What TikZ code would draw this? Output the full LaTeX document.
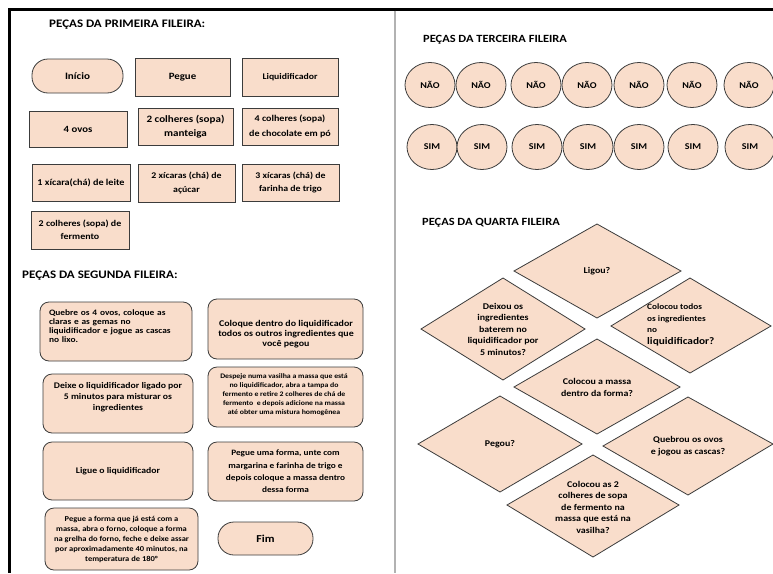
\documentclass[tikz,border=0pt]{standalone}
\usepackage{fontspec}
\setmainfont{Carlito}[FakeStretch=1.13]
\usetikzlibrary{shapes.geometric}
\definecolor{peach}{RGB}{249,221,203}
\definecolor{edgec}{RGB}{60,60,60}
\begin{document}
\begin{tikzpicture}[x=1pt,y=-1pt,
  piece/.style={draw=edgec, line width=0.8pt, fill=peach, align=center, inner sep=0pt},
  sz/.style n args={2}{minimum width=#1pt, minimum height=#2pt},
  fz/.style n args={2}{font=\bfseries\fontsize{#1}{#2}\selectfont},
  rbox/.style={piece, rounded corners=9pt},
  stad/.style={piece, rounded corners=16pt},
  txt/.style={align=center, inner sep=0pt},
  circ/.style={piece, ellipse, minimum width=50pt, minimum height=45pt, fz={8.9}{10}},
  dia/.style={draw=edgec, line width=0.8pt, fill=peach, line join=miter},
  fd/.style={fz={8.8}{11.5}, align=center, inner sep=0pt},
  head/.style={anchor=west, inner sep=0pt, fz={11.5}{13}},
]
\useasboundingbox (0,0) rectangle (773,573);
\fill[white] (0,0) rectangle (773,573);
% frame
\draw[line width=3pt] (8,9) -- (773,9);
\draw[line width=3pt] (9,8) -- (9,573);
\draw[line width=1.6pt, black!30] (395,10.5) -- (395,573);

% ---- first row
\node[head] (h1) at (49,25) {PEÇAS DA PRIMEIRA FILEIRA:};
\node[stad, sz={91}{34}, fz={9.8}{12}] (inicio) at (77.5,76) {Início};
\node[piece, sz={95}{38}, fz={9.6}{12}] (pegue) at (182.5,77) {Pegue};
\node[piece, sz={96}{38}, fz={8.6}{12}] (liq) at (290,77) {Liquidificador};
\node[piece, sz={98}{36}, fz={9.5}{12}] (ovos) at (78,129) {4 ovos};
\node[piece, sz={95}{37}, fz={9.8}{14.5}] (mant) at (185.5,126.5) {2 colheres (sopa)\\manteiga};
\node[piece, sz={96}{37}, fz={8.9}{14.5}] (choc) at (290,126.5) {4 colheres (sopa)\\de chocolate em pó};
\node[piece, sz={98}{37}, fz={9}{12}] (leite) at (81,182.5) {1 xícara(chá) de leite};
\node[piece, sz={97}{38}, fz={8.7}{13.5}] (acucar) at (186.5,183) {2 xícaras (chá) de\\açúcar};
\node[piece, sz={97}{37}, fz={8.7}{13}] (farinha) at (290.5,182.5) {3 xícaras (chá) de\\farinha de trigo};
\node[piece, sz={98}{38}, fz={8.8}{12.5}] (ferm) at (80,230) {2 colheres (sopa) de\\fermento};

% ---- second row
\node[head] (h2) at (22,276) {PEÇAS DA SEGUNDA FILEIRA:};
\node[rbox, sz={152}{59}] (quebre) at (116,331.5) {};
\node[txt, fz={8.3}{9.2}, align=left, text width=140pt] (quebreT) at (119,326)
  {Quebre os 4 ovos, coloque as\\claras e as gemas no\\liquidificador e jogue as cascas\\no lixo.};
\node[rbox, sz={155}{60}] (coloque) at (285.5,329) {};
\node[txt, fz={8.8}{10}] (coloqueT) at (286,334.5)
  {Coloque dentro do liquidificador\\todos os outros ingredientes que\\você pegou};
\node[rbox, sz={150}{59}] (deixe) at (118,403.5) {};
\node[txt, fz={8.6}{11}] (deixeT) at (118,397.5)
  {Deixe o liquidificador ligado por\\5 minutos para misturar os\\ingredientes};
\node[rbox, sz={155}{60}] (despeje) at (285.5,397) {};
\node[txt, fz={6.9}{8.9}] (despejeT) at (284,394.5)
  {Despeje numa vasilha a massa que está\\no liquidificador, abra a tampa do\\fermento e retire 2 colheres de chá de\\fermento\ \ e depois adicione na massa\\até obter uma mistura homogênea};
\node[rbox, sz={150}{58}, fz={8.6}{11}] (ligue) at (118,471) {Ligue o liquidificador};
\node[rbox, sz={155}{59}, fz={8.2}{12.3}] (forma) at (285.5,471.5)
  {Pegue uma forma, unte com\\margarina e farinha de trigo e\\depois coloque a massa dentro\\dessa forma};
\node[rbox, sz={153}{62}, fz={7.5}{10}] (forno) at (121.5,539)
  {Pegue a forma que já está com a\\massa, abra o forno, coloque a forma\\na grelha do forno, feche e deixe assar\\por aproximadamente 40 minutos, na\\temperatura de 180°};
\node[stad, sz={95}{33}, fz={10.6}{12}] (fim) at (265.5,538.5) {Fim};

% ---- third row
\node[head, font=\fontsize{11}{13}\selectfont\bfseries] (h3) at (423,40) {PEÇAS DA TERCEIRA FILEIRA};
\foreach \x [count=\i] in {430,481,536,587,639,692,749}
  \node[circ] (nao\i) at (\x,85) {NÃO};
\foreach \x [count=\i] in {432,482,537,588,639,693,750}
  \node[circ] (sim\i) at (\x,147) {SIM};

% ---- fourth row
\node[head, font=\fontsize{11}{13}\selectfont\bfseries] (h4) at (422,223) {PEÇAS DA QUARTA FILEIRA};
% Ligou?
\path[dia] (597,224) -- (681,271) -- (597,318) -- (514,271) -- cycle;
\node[fd] (ligou) at (597,271) {Ligou?};
% Deixou
\path[dia] (503,278) -- (585,329) -- (503,380) -- (421,329) -- cycle;
\node[fd] (deixou) at (503,329)
  {Deixou os\\ingredientes\\baterem no\\liquidificador por\\5 minutos?};
% Colocou todos
\path[dia] (690,278) -- (771,326) -- (690,373) -- (611,326) -- cycle;
\node[fd, align=left, anchor=west, fz={8.2}{11.8}] (todos) at (647,325)
  {Colocou todos\\os ingredientes\\no\\{\fontsize{10}{11}\selectfont liquidificador?}};
% Colocou a massa
\path[dia] (597,339) -- (680,387) -- (597,434) -- (514,387) -- cycle;
\node[fd] (massa) at (597,387.5) {Colocou a massa\\dentro da forma?};
% Pegou?
\path[dia] (500,396) -- (582,444) -- (500,492) -- (418,444) -- cycle;
\node[fd] (pegou) at (500,444) {Pegou?};
% Quebrou
\path[dia] (688,397) -- (773,444) -- (688,495) -- (603,446) -- cycle;
\node[fd] (quebrou) at (688,446) {Quebrou os ovos\\e jogou as cascas?};
% Colocou as 2
\path[dia] (593,455) -- (679,505) -- (593,557) -- (507,505) -- cycle;
\node[fd] (colher) at (593,507)
  {Colocou as 2\\colheres de sopa\\de fermento na\\massa que está na\\vasilha?};
\end{tikzpicture}
\end{document}
